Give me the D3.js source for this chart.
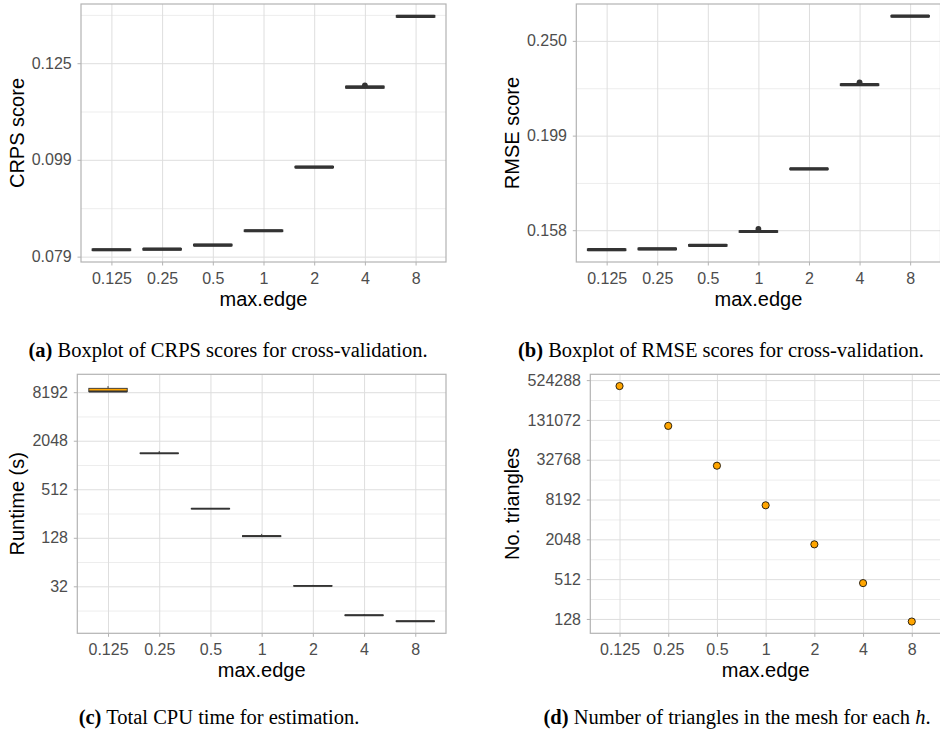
<!DOCTYPE html>
<html>
<head>
<meta charset="utf-8">
<script src="https://cdn.jsdelivr.net/npm/d3@7"></script>
<style>
  body { margin: 0; background: #fff; }
  svg { display: block; }
</style>
</head>
<body>
<svg id="fig" width="940" height="731"></svg>
<script>
// Mesh resolution levels shared by all four panels
const categories = ["0.125", "0.25", "0.5", "1", "2", "4", "8"];

// (a) CRPS scores from cross-validation
const crpsMedian = [0.0803, 0.0804, 0.0812, 0.0840, 0.0977, 0.1181, 0.1397];
const crpsLower  = [0.0802, 0.0803, 0.0811, 0.0839, 0.0976, 0.1179, 0.1395];
const crpsUpper  = [0.0804, 0.0805, 0.0813, 0.0841, 0.0978, 0.1183, 0.1399];
const crpsOutlierCat = ["4"];
const crpsOutlierValue = [0.1186];
const crpsTicks = [0.0790, 0.0994, 0.1250];
const crpsTickLabels = ["0.079", "0.099", "0.125"];

// (b) RMSE scores from cross-validation
const rmseMedian = [0.1507, 0.1510, 0.1523, 0.1575, 0.1833, 0.2248, 0.2654];
const rmseLower  = [0.1505, 0.1508, 0.1521, 0.1573, 0.1831, 0.2245, 0.2651];
const rmseUpper  = [0.1509, 0.1512, 0.1525, 0.1577, 0.1835, 0.2251, 0.2657];
const rmseOutlierCat = ["1", "4"];
const rmseOutlierValue = [0.1585, 0.2261];
const rmseTicks = [0.1580, 0.1987, 0.2500];
const rmseTickLabels = ["0.158", "0.199", "0.250"];

// (c) total CPU time for estimation, seconds
const timeMedian = [8360, 1431, 294, 134, 32.4, 14.0, 11.8];
const timeLower  = [8330, 1420, 292, 132, 32.2, 13.9, 11.7];
const timeUpper  = [9150, 1442, 296, 136, 32.6, 14.1, 11.9];
const timeWhiskerHigh = [9760, 1527, 296, 143, 33.3, 14.5, 11.9];
const timeTicks = [32, 128, 512, 2048, 8192];
const timeTickLabels = ["32", "128", "512", "2048", "8192"];

// (d) number of mesh triangles
const triangleCount = [426000, 106500, 26600, 6700, 1720, 446, 117];
const triangleTicks = [128, 512, 2048, 8192, 32768, 131072, 524288];
const triangleTickLabels = ["128", "512", "2048", "8192", "32768", "131072", "524288"];

const svg = d3.select("#fig");
const SANS = "'Liberation Sans', Arial, Helvetica, sans-serif";
const SERIF = "'Liberation Serif', 'Times New Roman', Times, serif";
const INK = "#333333";

function makePanel(opt) {
  const { left, right, top, bottom } = opt;
  const g = svg.append("g");

  const x = d3.scalePoint().domain(categories).range([left, right]).padding(0.6);
  const [mn, mx] = d3.extent(opt.extentValues);
  const ratio = mx / mn;
  const y = d3.scaleLog()
    .domain([mn * Math.pow(ratio, -0.05), mx * Math.pow(ratio, 0.05)])
    .range([bottom, top]);
  const [d0, d1] = y.domain();

  // minor breaks sit halfway (in log space) between the major ones
  const t = opt.ticks;
  const minors = [t[0] / Math.sqrt(t[1] / t[0])];
  for (let i = 0; i < t.length - 1; i++) minors.push(Math.sqrt(t[i] * t[i + 1]));
  minors.push(t[t.length - 1] * Math.sqrt(t[t.length - 1] / t[t.length - 2]));
  const minorIn = minors.filter(v => v > d0 && v < d1);

  const grid = (sel, color, width) => {
    sel.select(".domain").remove();
    sel.selectAll(".tick line").attr("stroke", color).attr("stroke-width", width);
  };

  g.append("g").attr("transform", `translate(${left},0)`)
    .call(d3.axisLeft(y).tickValues(minorIn).tickSize(-(right - left)).tickFormat(""))
    .call(grid, "#EDEDED", 1);
  g.append("g").attr("transform", `translate(${left},0)`)
    .call(d3.axisLeft(y).tickValues(t).tickSize(-(right - left)).tickFormat(""))
    .call(grid, "#DEDEDE", 1);
  g.append("g").attr("transform", `translate(0,${bottom})`)
    .call(d3.axisBottom(x).tickSize(-(bottom - top)).tickFormat(""))
    .call(grid, "#DEDEDE", 1);

  opt.draw(g.append("g"), x, y);

  g.append("rect")
    .attr("x", left).attr("y", top)
    .attr("width", right - left).attr("height", bottom - top)
    .attr("fill", "none").attr("stroke", "#B3B3B3").attr("stroke-width", 1.2);

  const axisStyle = sel => {
    sel.select(".domain").remove();
    sel.selectAll(".tick line").attr("stroke", "#B3B3B3").attr("stroke-width", 1);
    sel.selectAll(".tick text")
      .attr("fill", "#4D4D4D")
      .style("font-family", SANS)
      .style("font-size", "16px");
  };

  g.append("g").attr("transform", `translate(${left},0)`)
    .call(d3.axisLeft(y).tickValues(t).tickFormat((d, i) => opt.tickLabels[i])
      .tickSize(3.5).tickPadding(5.8))
    .call(axisStyle);

  g.append("g").attr("transform", `translate(0,${bottom})`)
    .call(d3.axisBottom(x).tickSize(3.5).tickPadding(7.1))
    .call(axisStyle);

  g.append("text")
    .attr("x", (x(categories[0]) + x(categories[categories.length - 1])) / 2)
    .attr("y", bottom + 43.8)
    .attr("text-anchor", "middle")
    .style("font-family", SANS).style("font-size", "20px").attr("fill", "#000")
    .text("max.edge");

  g.append("text")
    .attr("transform", `translate(${opt.titleX},${(top + bottom) / 2}) rotate(-90)`)
    .attr("text-anchor", "middle")
    .style("font-family", SANS).style("font-size", "20px").attr("fill", "#000")
    .text(opt.yTitle);
}

// boxplot layer: hinges, fattened median, optional upper whisker and outliers
function boxLayer(lower, median, upper, whiskerHigh, outCat, outVal, lw, fill) {
  return (g, x, y) => {
    const hw = x.step() * 0.375;
    categories.forEach((c, i) => {
      const cx = x(c);
      if (whiskerHigh && whiskerHigh[i] > upper[i]) {
        g.append("line")
          .attr("x1", cx).attr("x2", cx)
          .attr("y1", y(upper[i])).attr("y2", y(whiskerHigh[i]))
          .attr("stroke", INK).attr("stroke-width", lw);
      }
      g.append("rect")
        .attr("x", cx - hw).attr("width", hw * 2)
        .attr("y", y(upper[i])).attr("height", Math.max(0, y(lower[i]) - y(upper[i])))
        .attr("fill", fill).attr("stroke", INK).attr("stroke-width", lw);
      g.append("line")
        .attr("x1", cx - hw).attr("x2", cx + hw)
        .attr("y1", y(median[i])).attr("y2", y(median[i]))
        .attr("stroke", INK).attr("stroke-width", lw * 2);
    });
    outCat.forEach((c, i) => {
      g.append("circle")
        .attr("cx", x(c)).attr("cy", y(outVal[i])).attr("r", 2.9)
        .attr("fill", INK);
    });
  };
}

makePanel({
  left: 81, right: 446, top: 4, bottom: 262,
  extentValues: crpsLower.concat(crpsUpper, crpsOutlierValue),
  ticks: crpsTicks, tickLabels: crpsTickLabels,
  yTitle: "CRPS score", titleX: 24,
  draw: boxLayer(crpsLower, crpsMedian, crpsUpper, null, crpsOutlierCat, crpsOutlierValue, 1.6, "#ffffff")
});

makePanel({
  left: 576.3, right: 940.5, top: 4, bottom: 262,
  extentValues: rmseLower.concat(rmseUpper, rmseOutlierValue),
  ticks: rmseTicks, tickLabels: rmseTickLabels,
  yTitle: "RMSE score", titleX: 519.3,
  draw: boxLayer(rmseLower, rmseMedian, rmseUpper, null, rmseOutlierCat, rmseOutlierValue, 1.6, "#ffffff")
});

makePanel({
  left: 77.3, right: 446, top: 374.3, bottom: 633.3,
  extentValues: timeLower.concat(timeWhiskerHigh),
  ticks: timeTicks, tickLabels: timeTickLabels,
  yTitle: "Runtime (s)", titleX: 24,
  draw: boxLayer(timeLower, timeMedian, timeUpper, timeWhiskerHigh, [], [], 0.9, "#FFA500")
});

makePanel({
  left: 590.3, right: 941, top: 374.3, bottom: 633.3,
  extentValues: triangleCount,
  ticks: triangleTicks, tickLabels: triangleTickLabels,
  yTitle: "No. triangles", titleX: 518.5,
  draw: (g, x, y) => {
    g.selectAll("circle").data(triangleCount).join("circle")
      .attr("cx", (d, i) => x(categories[i]))
      .attr("cy", d => y(d))
      .attr("r", 3.6)
      .attr("fill", "#FFA500")
      .attr("stroke", "#000")
      .attr("stroke-width", 0.8);
  }
});

// sub-figure captions
const captions = [
  { x: 228, y: 356.5, label: "(a)", text: " Boxplot of CRPS scores for cross-validation.", tail: "" },
  { x: 721, y: 356.5, label: "(b)", text: " Boxplot of RMSE scores for cross-validation.", tail: "" },
  { x: 219, y: 724, label: "(c)", text: " Total CPU time for estimation.", tail: "" },
  { x: 737, y: 724, label: "(d)", text: " Number of triangles in the mesh for each ", tail: "h" }
];

captions.forEach(c => {
  const t = svg.append("text")
    .attr("x", c.x).attr("y", c.y)
    .attr("text-anchor", "middle")
    .style("font-family", SERIF).style("font-size", "20.5px").attr("fill", "#000");
  t.append("tspan").attr("font-weight", "bold").text(c.label);
  t.append("tspan").text(c.text);
  if (c.tail) {
    t.append("tspan").attr("font-style", "italic").text(c.tail);
    t.append("tspan").text(".");
  }
});
</script>
</body>
</html>
